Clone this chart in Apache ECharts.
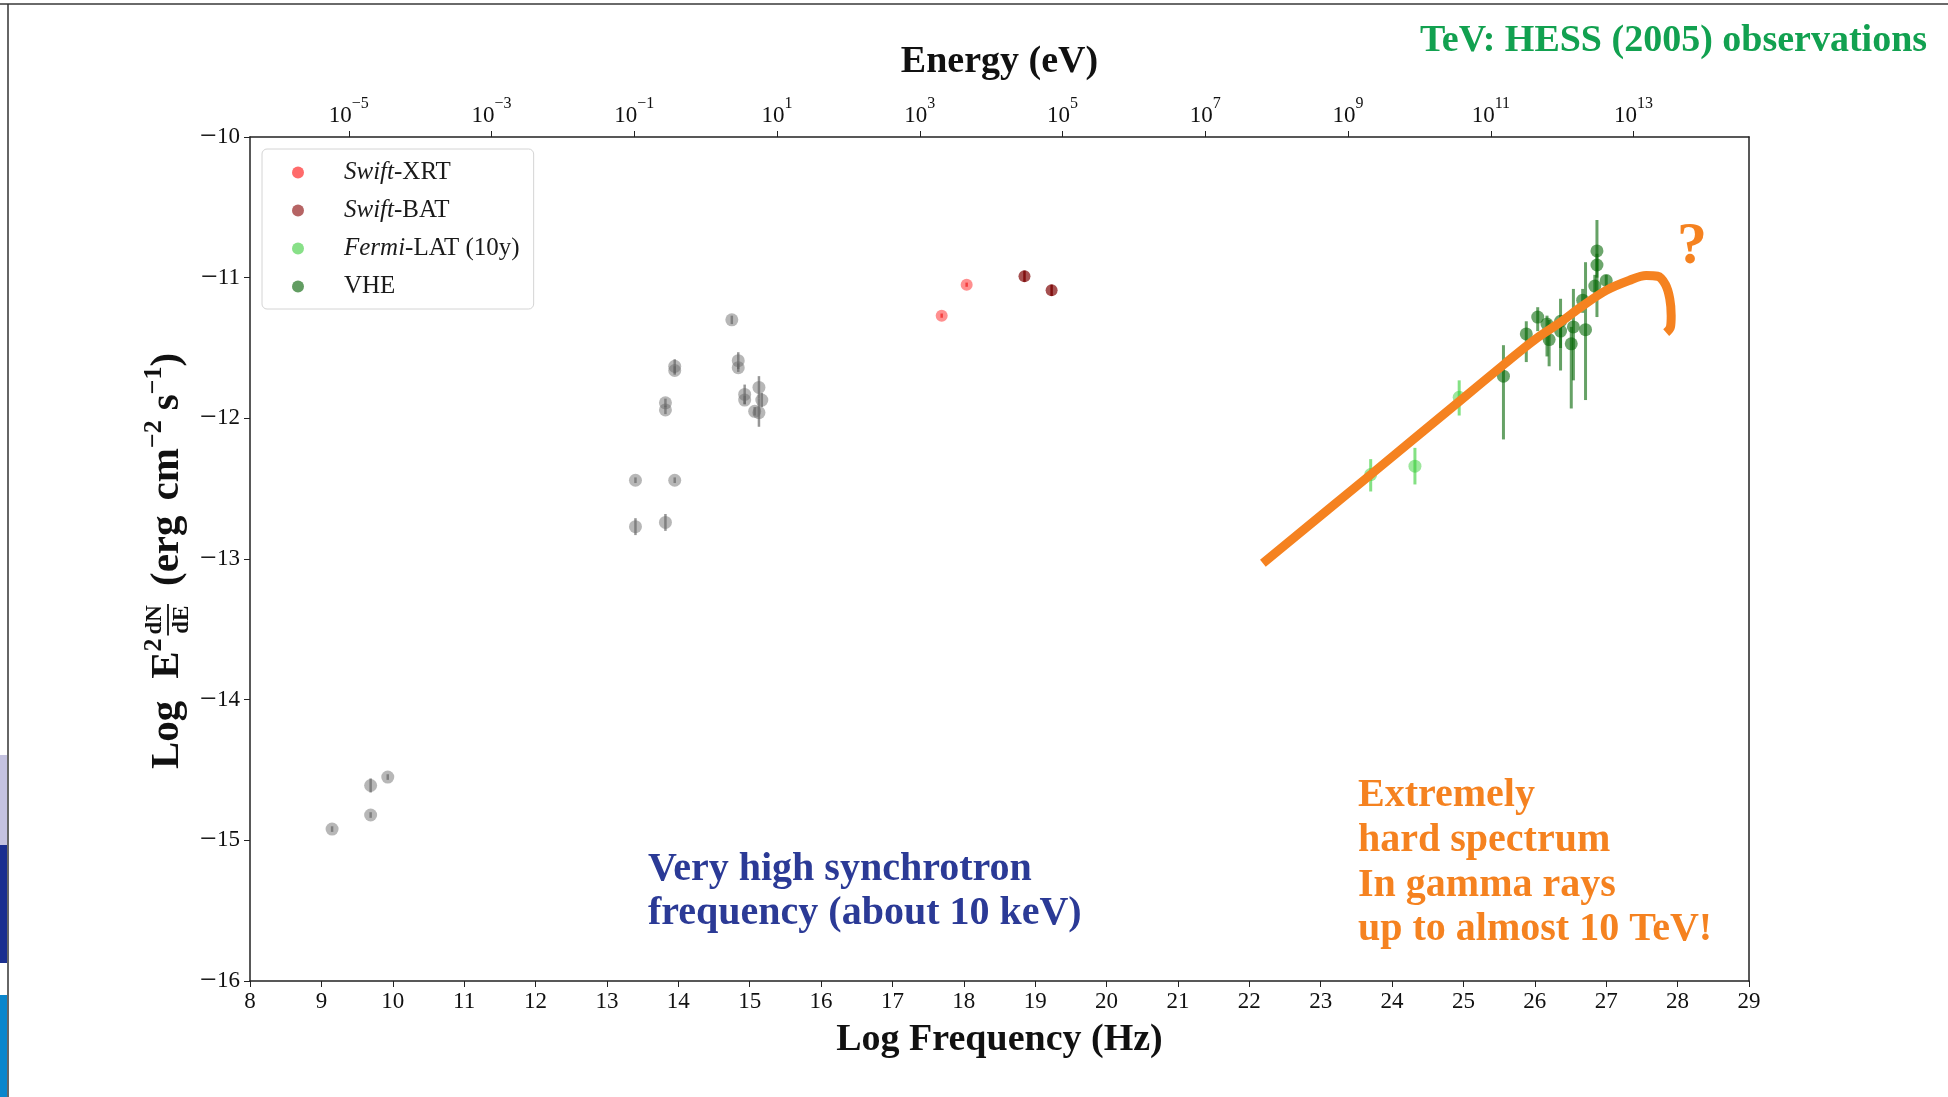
<!DOCTYPE html>
<html>
<head>
<meta charset="utf-8">
<script src="https://cdn.jsdelivr.net/npm/echarts@6/dist/echarts.min.js"></script>
<style>
  html, body { margin: 0; padding: 0; background: #ffffff; }
  #chart { width: 1948px; height: 1097px; }
</style>
</head>
<body>
<div id="chart"></div>
<script>
// log10(1 eV / h): shifts log photon energy (eV) to log frequency (Hz)
const LOG_EV_TO_HZ = 14.3836;

// Energy axis tick exponents (10^n eV)
const energyExponents = [-5, -3, -1, 1, 3, 5, 7, 9, 11, 13];

// Radio / IR / optical / UV archival points
const archX   = [9.15, 9.69, 9.69, 9.93, 13.40, 13.40, 13.82, 13.95, 13.82, 13.82, 13.95, 13.95, 14.75, 14.84, 14.84, 14.93, 14.93, 15.13, 15.17, 15.07, 15.13];
const archY   = [-14.92, -14.61, -14.82, -14.55, -12.44, -12.77, -12.74, -12.44, -11.89, -11.94, -11.63, -11.66, -11.30, -11.59, -11.64, -11.83, -11.87, -11.78, -11.87, -11.95, -11.96];
const archErr = [0.02, 0.05, 0.02, 0.02, 0.02, 0.06, 0.06, 0.02, 0.03, 0.03, 0.05, 0.03, 0.03, 0.06, 0.03, 0.07, 0.03, 0.08, 0.05, 0.03, 0.10];

// Swift-XRT
const xrtX = [17.69, 18.04];
const xrtY = [-11.27, -11.05];

// Swift-BAT
const batX = [18.85, 19.23];
const batY = [-10.99, -11.09];

// Fermi-LAT (10 yr)
const fermiX  = [23.70, 24.32, 24.94];
const fermiY  = [-12.40, -12.34, -11.85];
const fermiLo = [-12.52, -12.47, -11.98];
const fermiHi = [-12.29, -12.21, -11.73];

// VHE (H.E.S.S.)
const vheX  = [25.56, 25.88, 26.04, 26.17, 26.20, 26.36, 26.36, 26.54, 26.51, 26.67, 26.71, 26.84, 26.87, 26.87, 27.00];
const vheY  = [-11.70, -11.40, -11.28, -11.33, -11.44, -11.31, -11.38, -11.35, -11.47, -11.16, -11.37, -11.06, -10.91, -10.81, -11.02];
const vheLo = [-12.15, -11.60, -11.38, -11.56, -11.63, -11.66, -11.50, -11.73, -11.93, -11.25, -11.87, -11.15, -11.00, -11.28, -11.07];
const vheHi = [-11.48, -11.31, -11.21, -11.27, -11.30, -11.15, -11.30, -11.08, -11.35, -11.08, -10.89, -10.98, -10.83, -10.59, -10.98];

// Hand-drawn hard-spectrum sketch with its cut-off hook
const sketchX = [22.19, 23.70, 24.94, 25.56, 26.00, 26.35, 26.67, 27.00, 27.32, 27.56, 27.72, 27.83, 27.89, 27.91, 27.90, 27.84];
const sketchY = [-13.03, -12.40, -11.88, -11.62, -11.44, -11.32, -11.20, -11.09, -11.02, -10.985, -10.99, -11.05, -11.15, -11.27, -11.35, -11.39];

const zip = (...cols) => cols[0].map((_, i) => cols.map(c => c[i]));

const AXIS_COLOR = '#222222';
const TICK_FONT = '"Liberation Serif", "DejaVu Serif", serif';
const TITLE_FONT = '"Liberation Serif", serif';
const SLIDE_FONT = '"Liberation Serif", serif';

function minusify(v) {
  return (v < 0 ? '\u2212' : '') + Math.abs(v);
}

function errorBarSeries(name, data, color, width) {
  return {
    type: 'custom',
    name: name,
    data: data,
    encode: { x: 0, y: [1, 2] },
    silent: true,
    z: 2,
    renderItem: function (params, api) {
      const a = api.coord([api.value(0), api.value(1)]);
      const b = api.coord([api.value(0), api.value(2)]);
      return {
        type: 'line',
        shape: { x1: a[0], y1: a[1], x2: b[0], y2: b[1] },
        style: { stroke: color, lineWidth: width }
      };
    }
  };
}

// Vertical y-axis title with a stacked dN/dE fraction
function buildYTitle() {
  const ctx = document.createElement('canvas').getContext('2d');
  const mainFont = 'bold 41px ' + TITLE_FONT;
  const supFont = 'bold 26px ' + TITLE_FONT;
  const fracFont = 'bold 23px ' + TITLE_FONT;
  const measure = (t, f) => { ctx.font = f; return ctx.measureText(t).width; };
  const pieces = [
    { t: 'Log', f: mainFont, dy: 0 },
    { gap: 22 },
    { t: 'E', f: mainFont, dy: 0 },
    { t: '2', f: supFont, dy: -13 },
    { gap: 3 },
    { frac: true },
    { gap: 18 },
    { t: '(erg', f: mainFont, dy: 0 },
    { gap: 15 },
    { t: 'cm', f: mainFont, dy: 0 },
    { t: '\u22122', f: supFont, dy: -13 },
    { gap: 10 },
    { t: 's', f: mainFont, dy: 0 },
    { t: '\u22121', f: supFont, dy: -13 },
    { t: ')', f: mainFont, dy: 0 }
  ];
  const fracW = Math.max(measure('dN', fracFont), measure('dE', fracFont)) + 2;
  let total = 0;
  pieces.forEach(p => {
    if (p.gap) p.w = p.gap;
    else if (p.frac) p.w = fracW;
    else p.w = measure(p.t, p.f);
    total += p.w;
  });
  const children = [];
  let x = -total / 2;
  pieces.forEach(p => {
    if (p.frac) {
      const cx = x + p.w / 2;
      children.push({ type: 'text', style: { text: 'dN', x: cx, y: -12, font: fracFont, fill: '#111', align: 'center', verticalAlign: 'middle' } });
      children.push({ type: 'line', shape: { x1: x, y1: 1, x2: x + p.w, y2: 1 }, style: { stroke: '#111', lineWidth: 1.8 } });
      children.push({ type: 'text', style: { text: 'dE', x: cx, y: 15, font: fracFont, fill: '#111', align: 'center', verticalAlign: 'middle' } });
    } else if (p.t) {
      children.push({ type: 'text', style: { text: p.t, x: x, y: p.dy, font: p.f, fill: '#111', align: 'left', verticalAlign: 'middle' } });
    }
    x += p.w;
  });
  return { type: 'group', x: 167, y: 561, rotation: Math.PI / 2, children: children, z: 50 };
}

const chart = echarts.init(document.getElementById('chart'), null, { renderer: 'canvas' });

const option = {
  backgroundColor: '#ffffff',
  animation: false,
  grid: { left: 250, right: 199, top: 137, bottom: 116, containLabel: false },
  legend: {
    left: 262,
    top: 149,
    orient: 'vertical',
    selectedMode: false,
    backgroundColor: 'rgba(255,255,255,0.85)',
    borderColor: '#d4d4d4',
    borderWidth: 1,
    borderRadius: 5,
    padding: [11, 14, 10, 30],
    itemWidth: 12,
    itemHeight: 12,
    itemGap: 13,
    icon: 'circle',
    data: [
      { name: 'Swift-XRT', itemStyle: { color: '#ff6b6b', opacity: 1 } },
      { name: 'Swift-BAT', itemStyle: { color: '#b66464', opacity: 1 } },
      { name: 'Fermi-LAT (10y)', itemStyle: { color: '#88e088', opacity: 1 } },
      { name: 'VHE', itemStyle: { color: '#629d62', opacity: 1 } }
    ],
    formatter: function (name) {
      const m = name.match(/^(Swift|Fermi)(.*)$/);
      if (m) return '{i|' + m[1] + '}{r|' + m[2] + '}';
      return '{r|' + name + '}';
    },
    textStyle: {
      padding: [0, 0, 0, 35],
      lineHeight: 24,
      rich: {
        i: { fontFamily: TICK_FONT, fontStyle: 'italic', fontSize: 25, color: '#1a1a1a', lineHeight: 24 },
        r: { fontFamily: TICK_FONT, fontSize: 25, color: '#1a1a1a', lineHeight: 24 }
      }
    }
  },
  xAxis: [
    {
      type: 'value',
      position: 'bottom',
      min: 8,
      max: 29,
      interval: 1,
      name: 'Log Frequency (Hz)',
      nameLocation: 'middle',
      nameGap: 40,
      nameTextStyle: { fontFamily: TITLE_FONT, fontWeight: 'bold', fontSize: 38, color: '#111' },
      axisLine: { show: true, onZero: false, lineStyle: { color: AXIS_COLOR, width: 1.5 } },
      axisTick: { show: true, length: 6, lineStyle: { color: AXIS_COLOR, width: 1 } },
      axisLabel: { fontFamily: TICK_FONT, fontSize: 23, color: '#111', margin: 9, showMinLabel: true, showMaxLabel: true },
      splitLine: { show: false }
    },
    {
      type: 'value',
      position: 'top',
      min: 8 - LOG_EV_TO_HZ,
      max: 29 - LOG_EV_TO_HZ,
      name: 'Energy (eV)',
      nameLocation: 'middle',
      nameGap: 56,
      nameTextStyle: { fontFamily: TITLE_FONT, fontWeight: 'bold', fontSize: 38, color: '#111' },
      axisLine: { show: true, onZero: false, lineStyle: { color: AXIS_COLOR, width: 1.5 } },
      axisTick: { show: true, length: 6, customValues: energyExponents, lineStyle: { color: AXIS_COLOR, width: 1 } },
      axisLabel: {
        customValues: energyExponents,
        margin: 10,
        formatter: function (v) {
          return '{b|10}{s|' + minusify(Math.round(v)) + '}';
        },
        rich: {
          b: { fontFamily: TICK_FONT, fontSize: 23, color: '#111', lineHeight: 31, verticalAlign: 'bottom' },
          s: { fontFamily: TICK_FONT, fontSize: 16, color: '#111', lineHeight: 16, verticalAlign: 'top' }
        }
      },
      splitLine: { show: false }
    }
  ],
  yAxis: [
    {
      type: 'value',
      position: 'left',
      min: -16,
      max: -10,
      interval: 1,
      axisLine: { show: true, onZero: false, lineStyle: { color: AXIS_COLOR, width: 1.5 } },
      axisTick: { show: true, length: 6, lineStyle: { color: AXIS_COLOR, width: 1 } },
      axisLabel: {
        margin: 10,
        showMinLabel: true,
        showMaxLabel: true,
        formatter: function (v) {
          return v < 0 ? '{m|\u2212}{d|' + Math.abs(v) + '}' : '{d|' + v + '}';
        },
        rich: {
          m: { fontFamily: TICK_FONT, fontSize: 30, color: '#111', lineHeight: 23 },
          d: { fontFamily: TICK_FONT, fontSize: 23, color: '#111', lineHeight: 23 }
        }
      },
      splitLine: { show: false }
    },
    {
      type: 'value',
      position: 'right',
      min: -16,
      max: -10,
      interval: 1,
      axisLine: { show: true, onZero: false, lineStyle: { color: AXIS_COLOR, width: 1.5 } },
      axisTick: { show: false },
      axisLabel: { show: false },
      splitLine: { show: false }
    }
  ],
  series: [
    errorBarSeries('arch-err', zip(archX, archY.map((y, i) => y - archErr[i]), archY.map((y, i) => y + archErr[i])), 'rgba(80,80,80,0.6)', 2.5),
    {
      type: 'scatter', name: 'archival', data: zip(archX, archY),
      symbol: 'circle', symbolSize: 13, z: 3,
      itemStyle: { color: 'rgba(105,105,105,0.6)' }
    },
    errorBarSeries('xrt-err', zip(xrtX, xrtY.map(y => y - 0.015), xrtY.map(y => y + 0.015)), 'rgba(220,0,0,0.6)', 2.5),
    {
      type: 'scatter', name: 'Swift-XRT', data: zip(xrtX, xrtY),
      symbol: 'circle', symbolSize: 12, z: 3,
      itemStyle: { color: 'rgba(255,20,20,0.6)' }
    },
    errorBarSeries('bat-err', zip(batX, batY.map(y => y - 0.04), batY.map(y => y + 0.04)), 'rgba(110,0,0,0.8)', 2.5),
    {
      type: 'scatter', name: 'Swift-BAT', data: zip(batX, batY),
      symbol: 'circle', symbolSize: 12, z: 3,
      itemStyle: { color: 'rgba(125,0,0,0.85)' }
    },
    errorBarSeries('fermi-err', zip(fermiX, fermiLo, fermiHi), 'rgba(50,205,50,0.6)', 3),
    {
      type: 'scatter', name: 'Fermi-LAT (10y)', data: zip(fermiX, fermiY),
      symbol: 'circle', symbolSize: 13, z: 3,
      itemStyle: { color: 'rgba(50,205,50,0.6)' }
    },
    errorBarSeries('vhe-err', zip(vheX, vheLo, vheHi), 'rgba(0,100,0,0.6)', 3),
    {
      type: 'scatter', name: 'VHE', data: zip(vheX, vheY),
      symbol: 'circle', symbolSize: 13, z: 3,
      itemStyle: { color: 'rgba(0,100,0,0.72)' }
    },
    {
      type: 'line', name: 'sketch', data: zip(sketchX, sketchY),
      showSymbol: false, symbol: 'none', smooth: 0.35, z: 6, silent: true,
      lineStyle: { color: '#f58220', width: 9, cap: 'butt', join: 'round' }
    }
  ],
  graphic: [
    // slide frame
    { type: 'line', shape: { x1: 0, y1: 4, x2: 1948, y2: 4 }, style: { stroke: '#6a6a6a', lineWidth: 2 }, z: 60 },
    { type: 'line', shape: { x1: 8, y1: 4, x2: 8, y2: 1097 }, style: { stroke: '#333333', lineWidth: 1.5 }, z: 60 },
    { type: 'rect', shape: { x: 0, y: 755, width: 7, height: 90 }, style: { fill: '#c4c2e0' }, z: 59 },
    { type: 'rect', shape: { x: 0, y: 845, width: 7, height: 118 }, style: { fill: '#1b2f8f' }, z: 59 },
    { type: 'rect', shape: { x: 0, y: 995, width: 7, height: 102 }, style: { fill: '#0a86cc' }, z: 59 },
    buildYTitle(),
    {
      type: 'text', z: 70,
      style: { text: 'TeV: HESS (2005) observations', x: 1420, y: 41, font: 'bold 38px ' + SLIDE_FONT, fill: '#12a150', align: 'left', verticalAlign: 'middle' }
    },
    {
      type: 'text', z: 70,
      style: { text: 'Very high synchrotron\nfrequency (about 10 keV)', x: 648, y: 848, font: 'bold 40px ' + SLIDE_FONT, lineHeight: 44, fill: '#2b3a96', align: 'left', verticalAlign: 'top' }
    },
    {
      type: 'text', z: 70,
      style: { text: 'Extremely\nhard spectrum\nIn gamma rays\nup to almost 10 TeV!', x: 1358, y: 773.5, font: 'bold 40px ' + SLIDE_FONT, lineHeight: 44.7, fill: '#f58220', align: 'left', verticalAlign: 'top' }
    },
    {
      type: 'text', z: 70,
      style: { text: '?', x: 1692, y: 247, font: 'bold 60px ' + SLIDE_FONT, fill: '#f58220', align: 'center', verticalAlign: 'middle' }
    }
  ]
};

chart.setOption(option);
</script>
</body>
</html>
